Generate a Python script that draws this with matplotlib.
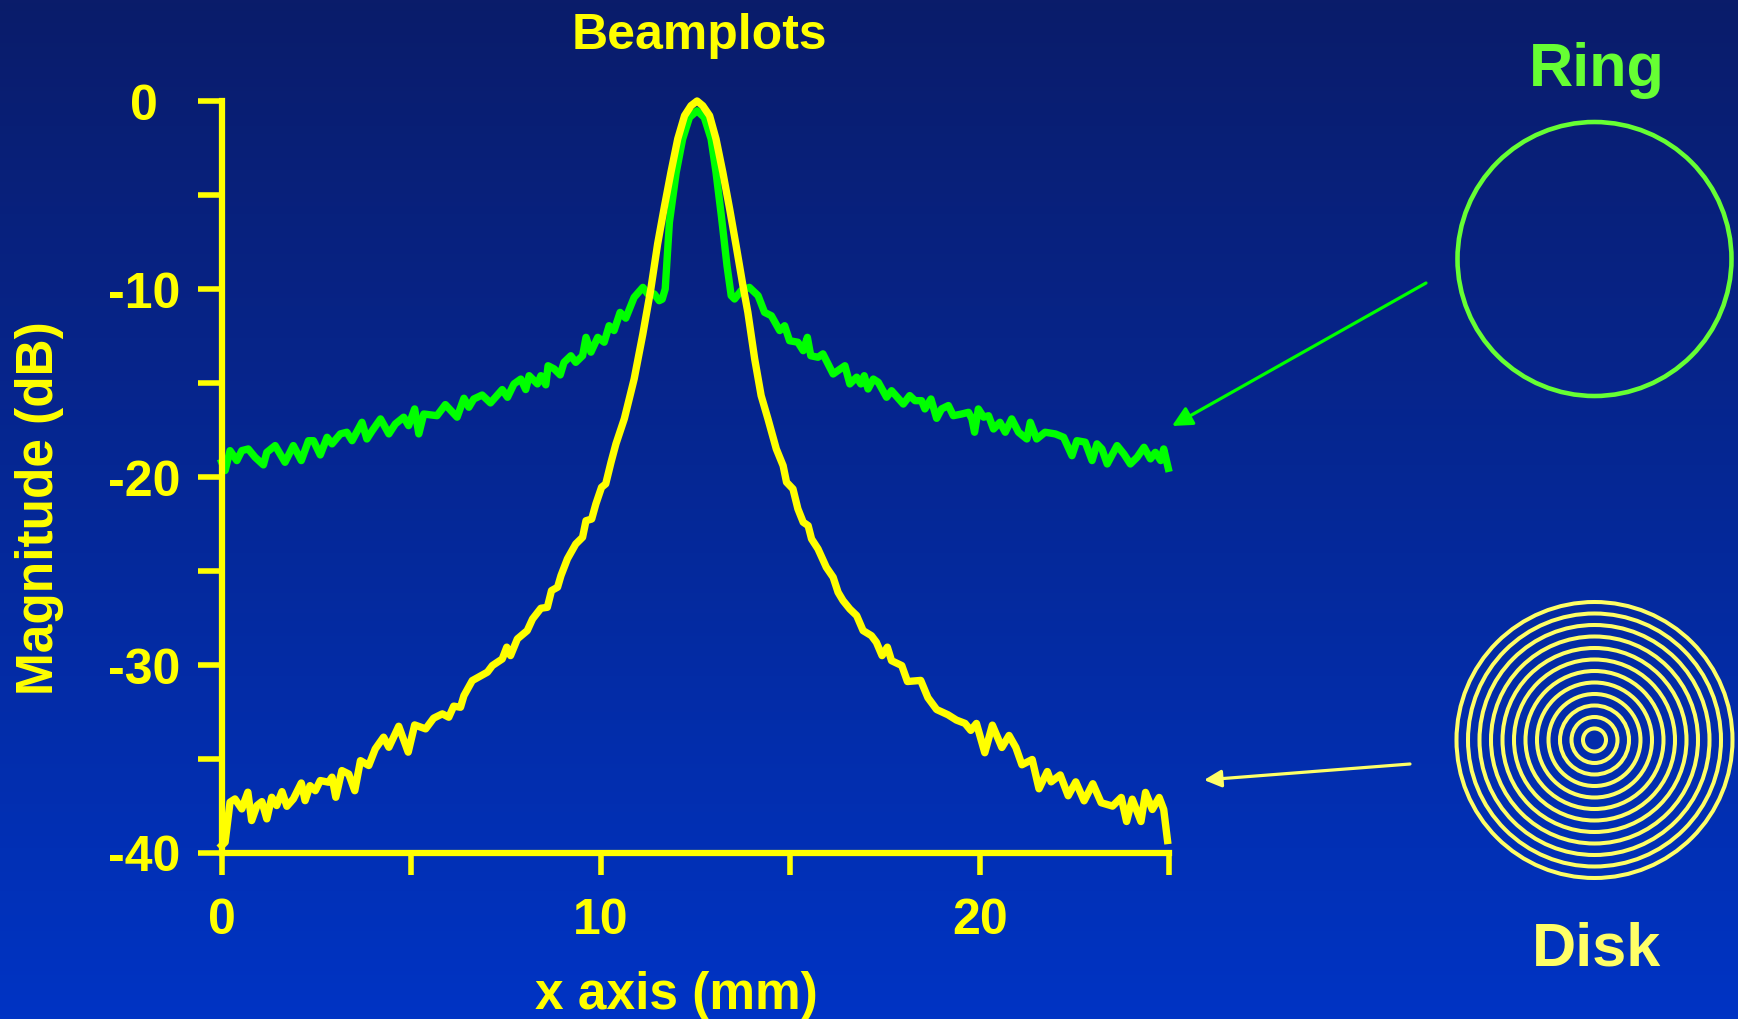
import numpy as np
import matplotlib.pyplot as plt
from matplotlib.patches import Circle

plt.rcParams['font.family'] = ['Liberation Sans', 'DejaVu Sans']
plt.rcParams['font.weight'] = 'bold'

# ring transducer beamplot (green)
ring_x = [0.00, 0.09, 0.22, 0.40, 0.53, 0.70, 0.88, 1.10, 1.19, 1.41, 1.67, 1.89, 2.10, 2.29,
          2.42, 2.60, 2.78, 2.91, 3.13, 3.30, 3.44, 3.70, 3.83, 3.97, 4.19, 4.41, 4.58, 4.80,
          4.93, 5.09, 5.20, 5.33, 5.68, 5.90, 6.21, 6.39, 6.52, 6.65, 6.87, 7.09, 7.40, 7.54,
          7.71, 7.89, 8.02, 8.11, 8.33, 8.42, 8.55, 8.61, 8.77, 8.93, 9.03, 9.21, 9.34, 9.52,
          9.61, 9.74, 9.92, 10.09, 10.22, 10.35, 10.51, 10.66, 10.88, 11.11, 11.24, 11.41,
          11.54, 11.62, 11.70, 11.81, 11.99, 12.16, 12.34, 12.54, 12.73, 12.91, 13.04, 13.18,
          13.33, 13.44, 13.53, 13.70, 13.92, 14.15, 14.32, 14.50, 14.72, 14.85, 14.98, 15.20,
          15.34, 15.45, 15.54, 15.73, 15.86, 16.13, 16.44, 16.57, 16.75, 16.86, 16.95, 17.05,
          17.19, 17.32, 17.54, 17.67, 17.98, 18.15, 18.29, 18.46, 18.55, 18.71, 18.86, 18.99,
          19.17, 19.30, 19.52, 19.70, 19.79, 19.86, 19.96, 20.10, 20.23, 20.36, 20.53, 20.67,
          20.84, 21.02, 21.24, 21.33, 21.50, 21.72, 21.99, 22.21, 22.43, 22.56, 22.78, 22.96,
          23.09, 23.22, 23.36, 23.62, 23.80, 23.97, 24.15, 24.33, 24.50, 24.63, 24.77, 24.85,
          24.97]
ring_db = [-19.23, -19.67, -18.61, -19.14, -18.61, -18.52, -18.96, -19.37, -18.70, -18.34,
           -19.23, -18.34, -19.14, -18.08, -18.08, -18.84, -17.90, -18.25, -17.72, -17.63,
           -18.08, -17.10, -17.99, -17.55, -16.92, -17.72, -17.19, -16.83, -17.28, -16.39,
           -17.72, -16.66, -16.75, -16.16, -16.83, -15.82, -16.30, -15.86, -15.65, -16.07,
           -15.36, -15.77, -15.06, -14.80, -15.36, -14.62, -15.06, -14.62, -15.11, -14.09,
           -14.26, -14.58, -13.91, -13.56, -13.91, -13.56, -12.58, -13.37, -12.58, -12.84,
           -11.96, -12.22, -11.25, -11.56, -10.45, -9.92, -10.27, -10.27, -10.63, -10.55,
           -10.00, -6.46, -3.80, -2.02, -0.87, -0.52, -0.87, -2.02, -3.80, -6.10, -8.77,
           -10.36, -10.54, -10.10, -9.92, -10.36, -11.25, -11.43, -12.22, -11.96, -12.76,
           -12.84, -13.29, -12.58, -13.56, -13.64, -13.46, -14.53, -14.09, -15.06, -14.70,
           -15.06, -14.62, -15.33, -14.80, -14.97, -15.77, -15.42, -16.13, -15.68, -15.95,
           -15.95, -16.39, -15.86, -16.89, -16.39, -16.21, -16.75, -16.66, -16.57, -16.92,
           -17.63, -16.39, -16.83, -16.75, -17.46, -17.10, -17.63, -16.92, -17.63, -17.99,
           -17.10, -17.99, -17.63, -17.72, -17.90, -18.88, -18.08, -18.16, -19.14, -18.25,
           -18.52, -19.32, -18.34, -18.79, -19.32, -18.96, -18.43, -19.05, -18.70, -19.14,
           -18.52, -19.55]

# disk transducer beamplot (yellow)
disk_x = [0.00, 0.09, 0.22, 0.35, 0.53, 0.69, 0.79, 0.93, 1.06, 1.19, 1.32, 1.45, 1.59, 1.72,
          1.89, 2.10, 2.20, 2.33, 2.47, 2.60, 2.82, 2.91, 3.01, 3.17, 3.35, 3.51, 3.66, 3.88,
          4.05, 4.27, 4.41, 4.67, 4.92, 5.09, 5.38, 5.59, 5.82, 5.99, 6.12, 6.30, 6.39, 6.61,
          7.01, 7.14, 7.40, 7.52, 7.62, 7.80, 8.06, 8.20, 8.42, 8.59, 8.70, 8.86, 8.95, 9.12,
          9.34, 9.52, 9.61, 9.76, 9.87, 10.02, 10.13, 10.27, 10.40, 10.62, 10.88, 11.11, 11.32,
          11.50, 11.68, 11.85, 12.03, 12.21, 12.38, 12.54, 12.69, 12.87, 13.04, 13.22, 13.40,
          13.57, 13.75, 13.88, 14.06, 14.23, 14.41, 14.63, 14.81, 14.90, 15.07, 15.20, 15.34,
          15.47, 15.56, 15.73, 15.95, 16.13, 16.26, 16.39, 16.57, 16.75, 16.92, 17.14, 17.27,
          17.42, 17.56, 17.67, 17.94, 18.09, 18.44, 18.63, 18.86, 19.16, 19.38, 19.61, 19.76,
          19.91, 20.13, 20.33, 20.58, 20.77, 20.95, 21.11, 21.38, 21.56, 21.78, 21.88, 22.12,
          22.33, 22.53, 22.75, 22.98, 23.20, 23.50, 23.73, 23.87, 24.02, 24.25, 24.37, 24.55,
          24.73, 24.85, 24.95]
disk_db = [-39.63, -39.45, -37.32, -37.15, -37.68, -36.79, -38.30, -37.50, -37.29, -38.21,
           -37.06, -37.50, -36.76, -37.54, -37.15, -36.30, -37.24, -36.44, -36.71, -36.17,
           -36.26, -35.99, -37.06, -35.64, -35.82, -36.71, -35.11, -35.37, -34.49, -33.86,
           -34.40, -33.28, -34.66, -33.21, -33.42, -32.85, -32.62, -32.80, -32.21, -32.27,
           -31.65, -30.85, -30.40, -30.05, -29.70, -29.07, -29.52, -28.63, -28.19, -27.57,
           -27.00, -26.95, -26.06, -25.88, -25.26, -24.37, -23.58, -23.22, -22.34, -22.25,
           -21.45, -20.56, -20.38, -19.23, -18.25, -16.92, -14.80, -12.40, -10.01, -7.60,
           -5.60, -3.80, -2.02, -0.78, -0.25, 0.00, -0.25, -0.78, -2.02, -3.80, -5.75, -7.70,
           -9.83, -11.25, -13.73, -15.68, -16.92, -18.52, -19.41, -20.29, -20.65, -21.71,
           -22.42, -22.60, -23.31, -23.84, -24.82, -25.35, -26.15, -26.59, -27.04, -27.39,
           -28.19, -28.46, -28.81, -29.52, -29.07, -29.79, -30.05, -30.90, -30.84, -31.76,
           -32.39, -32.67, -32.95, -33.13, -33.50, -33.13, -34.69, -33.22, -34.41, -33.77,
           -34.41, -35.33, -35.05, -36.61, -35.69, -36.24, -35.87, -36.98, -36.24, -37.25,
           -36.34, -37.35, -37.53, -37.07, -38.35, -37.16, -38.35, -36.80, -37.71, -37.07,
           -37.71, -39.36]

x_ticks = [0, 5, 10, 15, 20, 25]
x_ticklabels = ['0', '', '10', '', '20', '']
y_ticks = [0, -5, -10, -15, -20, -25, -30, -35, -40]
y_ticklabels = ['0', '', '-10', '', '-20', '', '-30', '', '-40']

YEL = '#FFFF00'
GRN = '#00FF00'
PALE_YEL = '#FFFF66'
LIME = '#66FF33'

W, H = 1738, 1020
fig = plt.figure(figsize=(W / 100, H / 100), dpi=100)

# background gradient
bg = fig.add_axes([0, 0, 1, 1])
top = np.array([10, 28, 106]) / 255
bot = np.array([0, 52, 196]) / 255
t = np.linspace(0, 1, 256)[:, None]
grad = (top * (1 - t) + bot * t)[:, None, :]
bg.imshow(grad, aspect='auto', extent=[0, 1, 0, 1])
bg.set_axis_off()

# main beamplot axes
ax = fig.add_axes([221.7 / W, 1 - 853.5 / H, (1169.4 - 221.7) / W, (853.5 - 102) / H])
ax.patch.set_visible(False)
ax.plot(ring_x, ring_db, color=GRN, lw=5.3, clip_on=False, solid_joinstyle='round')
ax.plot(disk_x, disk_db, color=YEL, lw=5.3, clip_on=False, solid_joinstyle='round')
ax.set_xlim(0, 25)
ax.set_ylim(-40, 0)
for s in ['top', 'right']:
    ax.spines[s].set_visible(False)
for s in ['left', 'bottom']:
    ax.spines[s].set_color(YEL)
    ax.spines[s].set_linewidth(4.5)
ax.set_xticks(x_ticks)
ax.set_xticklabels(x_ticklabels)
ax.set_yticks(y_ticks)
ax.set_yticklabels(y_ticklabels, ha='center')
ax.tick_params(axis='x', direction='out', length=16, width=4, color=YEL,
               labelcolor=YEL, labelsize=36, pad=16)
ax.tick_params(axis='y', direction='out', length=17, width=4, color=YEL,
               labelcolor=YEL, labelsize=36, pad=38.7)

fig.text(699 / W, 1 - 49 / H, 'Beamplots', color=YEL, fontsize=36,
         ha='center', va='baseline', fontweight='bold')
fig.text(676 / W, 1 - 1008.6 / H, 'x axis (mm)', color=YEL, fontsize=37,
         ha='center', va='baseline', fontweight='bold')
fig.text(40 / W, 1 - 508 / H, 'Magnitude (dB)', color=YEL, fontsize=37,
         rotation=90, ha='center', va='center', fontweight='bold')
fig.text(1597 / W, 1 - 86 / H, 'Ring', color=LIME, fontsize=44,
         ha='center', va='baseline', fontweight='bold')
fig.text(1597 / W, 1 - 965.5 / H, 'Disk', color=PALE_YEL, fontsize=44,
         ha='center', va='baseline', fontweight='bold')

# transducer sketches and arrows, in pixel coordinates
ov = fig.add_axes([0, 0, 1, 1])
ov.set_xlim(0, W)
ov.set_ylim(H, 0)
ov.set_axis_off()
ov.patch.set_visible(False)

ov.add_patch(Circle((1594.5, 260), 137, fill=False, ec=LIME, lw=3.3))
for k in range(1, 13):
    ov.add_patch(Circle((1594.5, 741), 11.5 * k, fill=False, ec=PALE_YEL, lw=2.9))

ov.annotate('', xy=(1172, 427), xytext=(1426, 284),
            arrowprops=dict(arrowstyle='-|>', color=GRN, lw=2.3,
                            mutation_scale=30, shrinkA=0, shrinkB=0))
ov.annotate('', xy=(1204, 781), xytext=(1410, 765),
            arrowprops=dict(arrowstyle='-|>', color=PALE_YEL, lw=2.3,
                            mutation_scale=26, shrinkA=0, shrinkB=0))

fig.savefig('out.png', dpi=100)
